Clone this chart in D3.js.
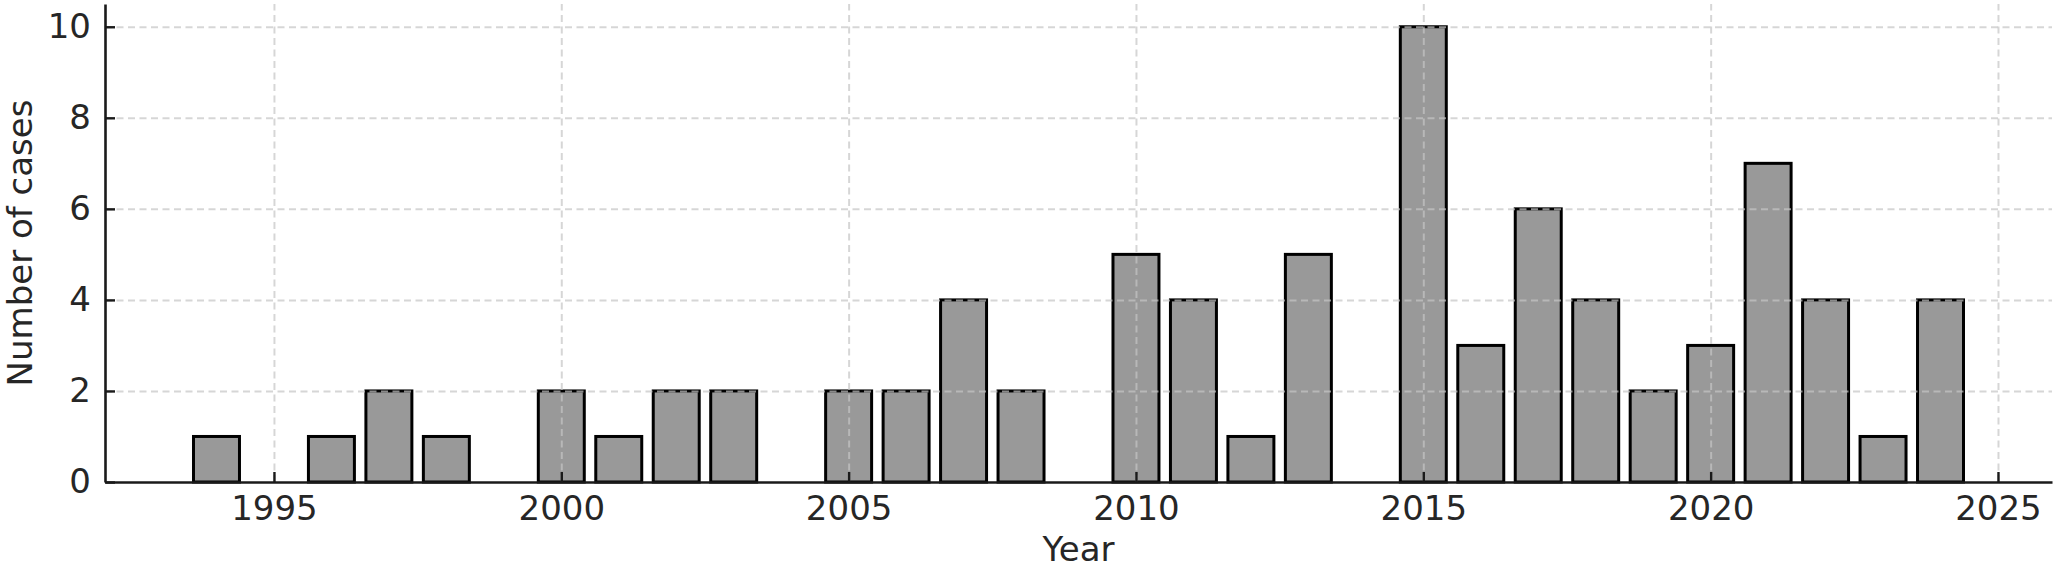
<!DOCTYPE html>
<html>
<head>
<meta charset="utf-8">
<script src="https://cdn.jsdelivr.net/npm/d3@7"></script>
<style>
  html, body { margin: 0; padding: 0; background: #ffffff; }
  svg { display: block; }
  text { font-family: "DejaVu Sans", sans-serif; }
</style>
</head>
<body>
<svg id="chart" width="2056" height="570"></svg>
<script>
// ---- data ----
const years = [1994, 1996, 1997, 1998, 2000, 2001, 2002, 2003, 2005, 2006, 2007, 2008,
               2010, 2011, 2012, 2013, 2015, 2016, 2017, 2018, 2019, 2020, 2021, 2022, 2023, 2024];
const cases = [1, 1, 2, 1, 2, 1, 2, 2, 2, 2, 4, 2,
               5, 4, 1, 5, 10, 3, 6, 4, 2, 3, 7, 4, 1, 4];
const xTickValues = [1995, 2000, 2005, 2010, 2015, 2020, 2025];
const yTickValues = [0, 2, 4, 6, 8, 10];
const xLabel = "Year";
const yLabel = "Number of cases";

// ---- layout ----
const plotLeft = 105, plotRight = 2052, plotTop = 4, plotBottom = 482;
const barWidth = 0.8;
const svg = d3.select("#chart");

const x = d3.scaleLinear().domain([1992.06, 2025.94]).range([plotLeft, plotRight]);
const y = d3.scaleLinear().domain([0, 10.5]).range([plotBottom, plotTop]);

const data = years.map((yr, i) => ({ year: yr, value: cases[i] }));

// bars
svg.append("g").selectAll("rect").data(data).join("rect")
  .attr("x", d => x(d.year - barWidth / 2))
  .attr("width", d => x(d.year + barWidth / 2) - x(d.year - barWidth / 2))
  .attr("y", d => y(d.value))
  .attr("height", d => y(0) - y(d.value))
  .attr("fill", "#999999")
  .attr("stroke", "#000000")
  .attr("stroke-width", 3);

// grid (drawn above bars, semi-transparent)
const gridX = svg.append("g").attr("transform", `translate(0,${plotBottom})`)
  .call(d3.axisBottom(x).tickValues(xTickValues).tickSize(-(plotBottom - plotTop)).tickFormat(""));
const gridY = svg.append("g").attr("transform", `translate(${plotLeft},0)`)
  .call(d3.axisLeft(y).tickValues(yTickValues.filter(v => v > 0)).tickSize(-(plotRight - plotLeft)).tickFormat(""));
[gridX, gridY].forEach(g => {
  g.select(".domain").remove();
  g.selectAll(".tick line")
    .attr("stroke", "#c4c4c4")
    .attr("stroke-opacity", 0.7)
    .attr("stroke-width", 2)
    .attr("stroke-dasharray", "7,4.5");
});

// axes
const xAxis = svg.append("g").attr("transform", `translate(0,${plotBottom})`)
  .call(d3.axisBottom(x).tickValues(xTickValues).tickFormat(d3.format("d"))
        .tickSizeInner(-10).tickSizeOuter(0).tickPadding(14));
const yAxis = svg.append("g").attr("transform", `translate(${plotLeft},0)`)
  .call(d3.axisLeft(y).tickValues(yTickValues).tickFormat(d3.format("d"))
        .tickSizeInner(-10).tickSizeOuter(0).tickPadding(14));
[xAxis, yAxis].forEach(g => {
  g.select(".domain").attr("stroke", "#1a1a1a").attr("stroke-width", 2.6);
  g.selectAll(".tick line").attr("stroke", "#1a1a1a").attr("stroke-width", 2.4);
  g.selectAll(".tick text")
    .attr("fill", "#262626")
    .style("font-family", "'DejaVu Sans', sans-serif")
    .style("font-size", "34px");
});

// axis labels
svg.append("text")
  .attr("x", (plotLeft + plotRight) / 2)
  .attr("y", 561)
  .attr("text-anchor", "middle")
  .attr("fill", "#262626")
  .style("font-size", "34px")
  .text(xLabel);

svg.append("text")
  .attr("transform", `translate(32,${(plotTop + plotBottom) / 2}) rotate(-90)`)
  .attr("text-anchor", "middle")
  .attr("fill", "#262626")
  .style("font-size", "34px")
  .text(yLabel);
</script>
</body>
</html>
